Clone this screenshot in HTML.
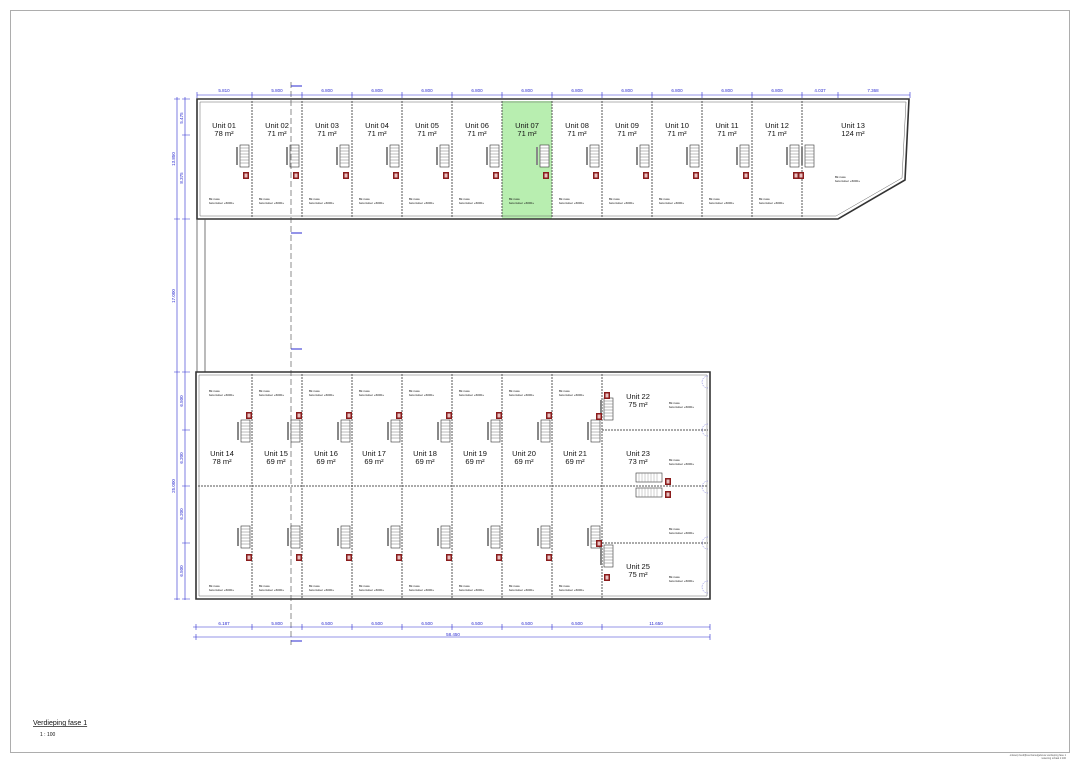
<!DOCTYPE html>
<html><head><meta charset="utf-8"><style>
html,body{margin:0;padding:0;background:#fff}
svg{display:block}
text{font-family:"Liberation Sans",sans-serif}
.u{font-size:7.5px;fill:#111;text-anchor:middle}
.d{font-size:4.5px;fill:#2a2ad0;text-anchor:middle}
.s{font-size:3px;fill:#111}
</style></head><body>
<svg width="1080" height="763" viewBox="0 0 1080 763" xmlns="http://www.w3.org/2000/svg">
<defs>
<g id="st">
<rect x="0" y="0" width="9" height="22" fill="#fff" stroke="#333" stroke-width="0.6"/>
<path d="M0 3H9M0 6H9M0 9H9M0 12H9M0 15H9M0 18H9" stroke="#777" stroke-width="0.5"/>
<rect x="-4" y="2" width="2" height="18" fill="#888"/>
</g>
<g id="rb"><rect width="6" height="7" fill="#8a1c1c"/><rect x="1.5" y="1.5" width="3" height="4" fill="#e8c0c0"/></g>
<g id="tx"><text class="s" x="0" y="0">Bk ruwe</text><text class="s" x="0" y="4">betonvloer +6000+</text></g>
</defs>
<rect x="10.5" y="10.5" width="1059" height="742" fill="none" stroke="#999" stroke-width="0.8"/>

<!-- top building -->
<rect x="502" y="101" width="50" height="118" fill="#b8eeb0"/>
<path d="M197 99H909L905 180L838 219H197Z" fill="none" stroke="#333" stroke-width="1.6"/>
<path d="M200 102H906L902 178L836 216H200Z" fill="none" stroke="#666" stroke-width="0.5"/>
<g stroke="#555" stroke-width="1" stroke-dasharray="2,1">
<path d="M252 101V218M302 101V218M352 101V218M402 101V218M452 101V218M502 101V218M552 101V218M602 101V218M652 101V218M702 101V218M752 101V218M802 101V218"/>
</g>
<g class="u">
<text x="224" y="128">Unit 01</text><text x="224" y="136">78 m²</text>
<text x="277" y="128">Unit 02</text><text x="277" y="136">71 m²</text>
<text x="327" y="128">Unit 03</text><text x="327" y="136">71 m²</text>
<text x="377" y="128">Unit 04</text><text x="377" y="136">71 m²</text>
<text x="427" y="128">Unit 05</text><text x="427" y="136">71 m²</text>
<text x="477" y="128">Unit 06</text><text x="477" y="136">71 m²</text>
<text x="527" y="128">Unit 07</text><text x="527" y="136">71 m²</text>
<text x="577" y="128">Unit 08</text><text x="577" y="136">71 m²</text>
<text x="627" y="128">Unit 09</text><text x="627" y="136">71 m²</text>
<text x="677" y="128">Unit 10</text><text x="677" y="136">71 m²</text>
<text x="727" y="128">Unit 11</text><text x="727" y="136">71 m²</text>
<text x="777" y="128">Unit 12</text><text x="777" y="136">71 m²</text>
<text x="853" y="128">Unit 13</text><text x="853" y="136">124 m²</text>
</g>
<g>
<use href="#st" x="240" y="145"/><use href="#rb" x="243" y="172"/>
<use href="#st" x="290" y="145"/><use href="#rb" x="293" y="172"/>
<use href="#st" x="340" y="145"/><use href="#rb" x="343" y="172"/>
<use href="#st" x="390" y="145"/><use href="#rb" x="393" y="172"/>
<use href="#st" x="440" y="145"/><use href="#rb" x="443" y="172"/>
<use href="#st" x="490" y="145"/><use href="#rb" x="493" y="172"/>
<use href="#st" x="540" y="145"/><use href="#rb" x="543" y="172"/>
<use href="#st" x="590" y="145"/><use href="#rb" x="593" y="172"/>
<use href="#st" x="640" y="145"/><use href="#rb" x="643" y="172"/>
<use href="#st" x="690" y="145"/><use href="#rb" x="693" y="172"/>
<use href="#st" x="740" y="145"/><use href="#rb" x="743" y="172"/>
<use href="#st" x="790" y="145"/><use href="#rb" x="793" y="172"/>
<use href="#st" x="805" y="145"/><use href="#rb" x="798" y="172"/>
</g>
<g>
<use href="#tx" x="209" y="200"/><use href="#tx" x="259" y="200"/><use href="#tx" x="309" y="200"/><use href="#tx" x="359" y="200"/><use href="#tx" x="409" y="200"/><use href="#tx" x="459" y="200"/><use href="#tx" x="509" y="200"/><use href="#tx" x="559" y="200"/><use href="#tx" x="609" y="200"/><use href="#tx" x="659" y="200"/><use href="#tx" x="709" y="200"/><use href="#tx" x="759" y="200"/><use href="#tx" x="835" y="178"/>
</g>
<!-- corridor -->
<path d="M197 219V372M205 219V372" stroke="#555" stroke-width="0.8"/>
<!-- section line -->
<path d="M291 82V645" stroke="#444" stroke-width="0.6" stroke-dasharray="6,3"/>
<path d="M291 86H302M291 233H302M291 349H302M291 641H302" stroke="#2a2ad0" stroke-width="1"/>

<!-- bottom building -->
<path d="M196 372H710V599H196Z" fill="none" stroke="#333" stroke-width="1.6"/>
<path d="M199 375H707V596H199Z" fill="none" stroke="#666" stroke-width="0.5"/>
<g stroke="#555" stroke-width="1" stroke-dasharray="2,1">
<path d="M252 374V598M302 374V598M352 374V598M402 374V598M452 374V598M502 374V598M552 374V598M602 374V598"/>
<path d="M198 486H708M602 430H708M602 543H708"/>
</g>
<g class="u">
<text x="222" y="456">Unit 14</text><text x="222" y="464">78 m²</text>
<text x="276" y="456">Unit 15</text><text x="276" y="464">69 m²</text>
<text x="326" y="456">Unit 16</text><text x="326" y="464">69 m²</text>
<text x="374" y="456">Unit 17</text><text x="374" y="464">69 m²</text>
<text x="425" y="456">Unit 18</text><text x="425" y="464">69 m²</text>
<text x="475" y="456">Unit 19</text><text x="475" y="464">69 m²</text>
<text x="524" y="456">Unit 20</text><text x="524" y="464">69 m²</text>
<text x="575" y="456">Unit 21</text><text x="575" y="464">69 m²</text>
<text x="638" y="399">Unit 22</text><text x="638" y="407">75 m²</text>
<text x="638" y="456">Unit 23</text><text x="638" y="464">73 m²</text>
<text x="638" y="569">Unit 25</text><text x="638" y="577">75 m²</text>
</g>
<g>
<use href="#st" x="241" y="420"/><use href="#rb" x="246" y="412"/>
<use href="#st" x="291" y="420"/><use href="#rb" x="296" y="412"/>
<use href="#st" x="341" y="420"/><use href="#rb" x="346" y="412"/>
<use href="#st" x="391" y="420"/><use href="#rb" x="396" y="412"/>
<use href="#st" x="441" y="420"/><use href="#rb" x="446" y="412"/>
<use href="#st" x="491" y="420"/><use href="#rb" x="496" y="412"/>
<use href="#st" x="541" y="420"/><use href="#rb" x="546" y="412"/>
<use href="#st" x="591" y="420"/>
<use href="#st" x="241" y="526"/><use href="#rb" x="246" y="554"/>
<use href="#st" x="291" y="526"/><use href="#rb" x="296" y="554"/>
<use href="#st" x="341" y="526"/><use href="#rb" x="346" y="554"/>
<use href="#st" x="391" y="526"/><use href="#rb" x="396" y="554"/>
<use href="#st" x="441" y="526"/><use href="#rb" x="446" y="554"/>
<use href="#st" x="491" y="526"/><use href="#rb" x="496" y="554"/>
<use href="#st" x="541" y="526"/><use href="#rb" x="546" y="554"/>
<use href="#st" x="591" y="526"/>
<use href="#st" x="604" y="398"/><use href="#rb" x="604" y="392"/><use href="#rb" x="596" y="413"/>
<use href="#st" x="604" y="545"/><use href="#rb" x="604" y="574"/><use href="#rb" x="596" y="540"/>
<rect x="636" y="473" width="26" height="9" fill="#fff" stroke="#333" stroke-width="0.6"/>
<rect x="636" y="488" width="26" height="9" fill="#fff" stroke="#333" stroke-width="0.6"/>
<path d="M639 473V482M642 473V482M645 473V482M648 473V482M651 473V482M654 473V482M657 473V482M639 488V497M642 488V497M645 488V497M648 488V497M651 488V497M654 488V497M657 488V497" stroke="#888" stroke-width="0.4"/>
<use href="#rb" x="665" y="478"/><use href="#rb" x="665" y="491"/>
</g>
<g>
<use href="#tx" x="209" y="392"/><use href="#tx" x="259" y="392"/><use href="#tx" x="309" y="392"/><use href="#tx" x="359" y="392"/><use href="#tx" x="409" y="392"/><use href="#tx" x="459" y="392"/><use href="#tx" x="509" y="392"/><use href="#tx" x="559" y="392"/>
<use href="#tx" x="209" y="587"/><use href="#tx" x="259" y="587"/><use href="#tx" x="309" y="587"/><use href="#tx" x="359" y="587"/><use href="#tx" x="409" y="587"/><use href="#tx" x="459" y="587"/><use href="#tx" x="509" y="587"/><use href="#tx" x="559" y="587"/>
<use href="#tx" x="669" y="404"/><use href="#tx" x="669" y="461"/><use href="#tx" x="669" y="530"/><use href="#tx" x="669" y="578"/>
</g>
<g fill="none" stroke="#6a6ad8" stroke-width="0.5" stroke-dasharray="1.5,1">
<path d="M708 376a6 6 0 0 0 0 12M708 424a6 6 0 0 0 0 12M708 481a6 6 0 0 0 0 12M708 537a6 6 0 0 0 0 12M708 581a6 6 0 0 0 0 12"/>
</g>

<!-- dimensions -->
<g stroke="#2a2ad0" stroke-width="0.6" fill="none">
<path d="M197 95H910"/>
<path d="M197 92V98M252 92V98M302 92V98M352 92V98M402 92V98M452 92V98M502 92V98M552 92V98M602 92V98M652 92V98M702 92V98M752 92V98M802 92V98M838 92V98M910 92V98"/>
<path d="M185 97V600M177 97V600"/>
<path d="M182 99H190M182 135H190M182 219H190M182 372H190M182 430H190M182 486H190M182 543H190M182 599H190M174 99H180M174 219H180M174 372H180M174 599H180"/>
<path d="M193 627H710M193 637H710M196 624V630M252 624V630M302 624V630M352 624V630M402 624V630M452 624V630M502 624V630M552 624V630M602 624V630M710 624V630M196 634V640M710 634V640"/>
</g>
<g class="d">
<text x="224" y="92">5.810</text><text x="277" y="92">5.800</text><text x="327" y="92">6.800</text><text x="377" y="92">6.800</text><text x="427" y="92">6.800</text><text x="477" y="92">6.800</text><text x="527" y="92">6.800</text><text x="577" y="92">6.800</text><text x="627" y="92">6.800</text><text x="677" y="92">6.800</text><text x="727" y="92">6.800</text><text x="777" y="92">6.800</text><text x="820" y="92">4.037</text><text x="873" y="92">7.368</text>
<text x="224" y="625">6.187</text><text x="277" y="625">5.800</text><text x="327" y="625">6.500</text><text x="377" y="625">6.500</text><text x="427" y="625">6.500</text><text x="477" y="625">6.500</text><text x="527" y="625">6.500</text><text x="577" y="625">6.500</text><text x="656" y="625">11.650</text>
<text x="453" y="636">58.450</text>
<text transform="translate(183 118) rotate(-90)">5.475</text>
<text transform="translate(183 178) rotate(-90)">8.375</text>
<text transform="translate(175 159) rotate(-90)">13.850</text>
<text transform="translate(175 296) rotate(-90)">17.000</text>
<text transform="translate(183 401) rotate(-90)">6.500</text>
<text transform="translate(183 458) rotate(-90)">6.200</text>
<text transform="translate(183 514) rotate(-90)">6.200</text>
<text transform="translate(183 571) rotate(-90)">6.500</text>
<text transform="translate(175 486) rotate(-90)">25.000</text>
</g>

<text x="33" y="725" style="font-size:7px;fill:#111;text-decoration:underline">Verdieping fase 1</text>
<text x="40" y="736" style="font-size:5px;fill:#111">1 : 100</text>
<text x="1066" y="756" style="font-size:2.5px;fill:#555;text-anchor:end">ontwerp bedrijfsverzamelgebouw verdieping fase 1</text>
<text x="1066" y="759" style="font-size:2.5px;fill:#555;text-anchor:end">tekening schaal 1:100</text>
</svg>
</body></html>
